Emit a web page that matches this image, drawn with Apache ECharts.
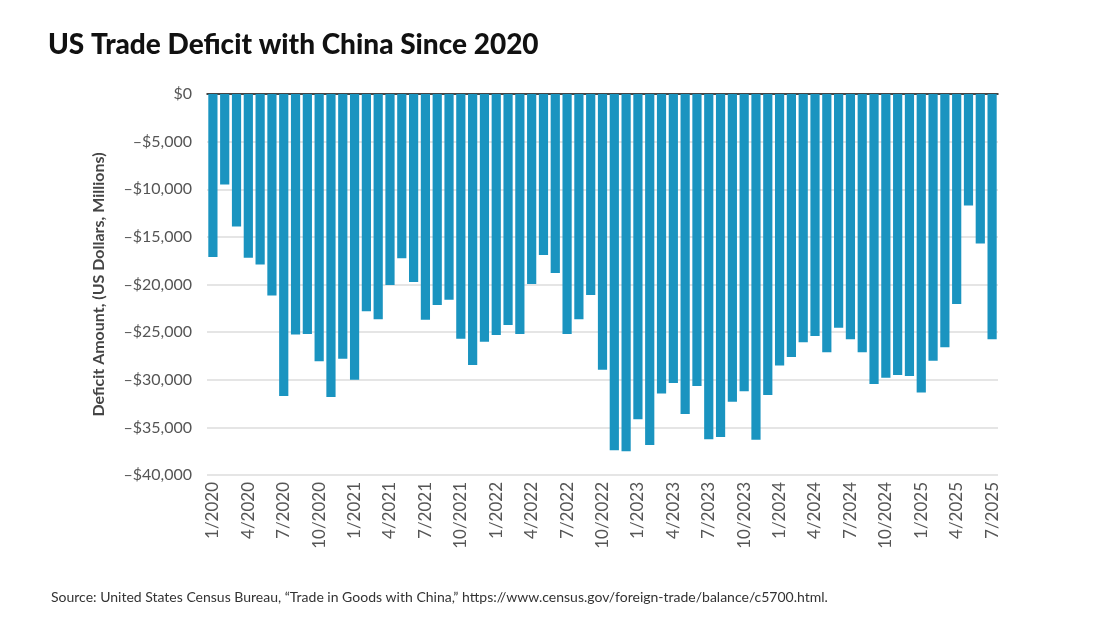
<!DOCTYPE html>
<html>
<head>
<meta charset="utf-8">
<script src="https://cdn.jsdelivr.net/npm/echarts@6/dist/echarts.min.js"></script>
<style>
html,body{margin:0;padding:0;background:#fff;}
#chart{width:1120px;height:626px;}
</style>
</head>
<body>
<div id="chart"></div>
<script>
// Months from 1/2020 to 7/2025
const startYear = 2020;
const monthCount = 67;
const categories = [];
for (let i = 0; i < monthCount; i++) {
  const y = startYear + Math.floor(i / 12);
  const m = (i % 12) + 1;
  categories.push(m + '/' + y);
}

// Trade balance with China (US$ millions)
const deficit2020 = [-17100, -9500, -13900, -17200, -17900, -21150, -31700, -25250, -25200, -28050, -31800, -27800];
const deficit2021 = [-30000, -22800, -23650, -20050, -17250, -19750, -23700, -22150, -21600, -25700, -28450, -26000];
const deficit2022 = [-25300, -24250, -25200, -19950, -16900, -18800, -25200, -23650, -21100, -28950, -37400, -37500];
const deficit2023 = [-34150, -36850, -31450, -30350, -33600, -30650, -36250, -36000, -32300, -31200, -36300, -31600];
const deficit2024 = [-28500, -27600, -26050, -25400, -27100, -24550, -25750, -27100, -30450, -29800, -29500, -29600];
const deficit2025 = [-31350, -28000, -26600, -22050, -11700, -15700, -25750];
const deficitValues = [].concat(deficit2020, deficit2021, deficit2022, deficit2023, deficit2024, deficit2025);

const yTicks = [0, -5000, -10000, -15000, -20000, -25000, -30000, -35000, -40000];

function fmtY(v) {
  if (v === 0) return '$0';
  return '\u2013$' + Math.abs(v).toLocaleString('en-US');
}

const chart = echarts.init(document.getElementById('chart'));
chart.setOption({
  backgroundColor: '#ffffff',
  animation: false,
  textStyle: { fontFamily: 'Lato' },
  title: [{
    text: 'US Trade Deficit with China Since 2020',
    left: 43, top: 26,
    textStyle: { fontFamily: 'Lato', fontWeight: 900, fontSize: 28, color: '#111' }
  }, {
    text: 'Source: United States Census Bureau, \u201CTrade in Goods with China,\u201D https://www.census.gov/foreign-trade/balance/c5700.html.',
    left: 46, top: 585,
    textStyle: { fontFamily: 'Lato', fontWeight: 'normal', fontSize: 14, color: '#333' }
  }],
  grid: { left: 207, right: 122, top: 94, bottom: 151, containLabel: false },
  xAxis: {
    type: 'category',
    data: categories,
    boundaryGap: true,
    axisLine: { lineStyle: { color: '#111', width: 1.5 } },
    axisTick: { interval: 2, length: 5, lineStyle: { color: '#111', width: 1.5 } },
    axisLabel: { interval: 2, rotate: 90, fontSize: 17, color: '#555', margin: 7, fontFamily: 'Lato' },
    splitLine: { show: false }
  },
  yAxis: {
    type: 'value',
    min: yTicks[yTicks.length - 1], max: yTicks[0], interval: 5000,
    name: 'Deficit Amount, (US Dollars, Millions)',
    nameLocation: 'middle',
    nameGap: 100,
    nameRotate: 90,
    nameTextStyle: { fontFamily: 'Lato', fontWeight: 'bold', fontSize: 16, color: '#444' },
    axisLine: { show: false },
    axisTick: { show: false },
    axisLabel: { formatter: fmtY, fontSize: 16, color: '#555', margin: 15, fontFamily: 'Lato' },
    splitLine: { lineStyle: { color: '#dcdcdc', width: 1.5 } }
  },
  series: [{
    type: 'bar',
    data: deficitValues,
    barCategoryGap: '22%',
    itemStyle: { color: '#1a94c0' }
  }]
});
</script>
</body>
</html>
